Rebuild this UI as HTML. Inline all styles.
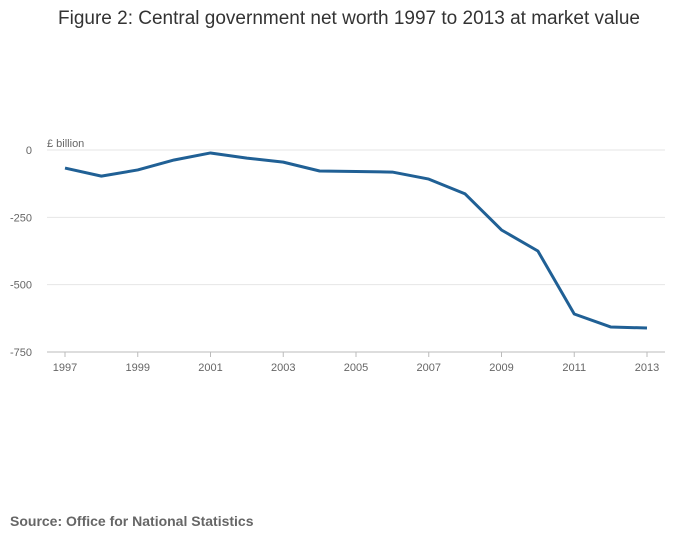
<!DOCTYPE html>
<html><head><meta charset="utf-8"><style>
body{margin:0;background:#fff;font-family:"Liberation Sans",sans-serif;}
svg text{font-family:"Liberation Sans",sans-serif;}
</style></head><body>
<svg width="700" height="549">
<text x="349" y="24" text-anchor="middle" font-size="19" fill="#333">Figure 2: Central government net worth 1997 to 2013 at market value</text>
<text x="47" y="147" font-size="11" fill="#666">£ billion</text>
<g id="grid"></g><g id="xaxis"></g>
<path id="line" fill="none" stroke="#206095" stroke-width="3" stroke-linejoin="round"/>
<text x="10" y="526" font-size="14" font-weight="bold" fill="#666">Source: Office for National Statistics</text>
</svg>
<script>
const years=[1997,1998,1999,2000,2001,2002,2003,2004,2005,2006,2007,2008,2009,2010,2011,2012,2013];
const values=[-67,-97,-74,-37,-11,-30,-45,-78,-80,-82,-108,-163,-297,-375,-609,-657,-661];
const yTicks=[0,-250,-500,-750];
const xTicks=[1997,1999,2001,2003,2005,2007,2009,2011,2013];
const ns="http://www.w3.org/2000/svg";
const X=y=>65+(y-1997)*(647-65)/16;
const Y=v=>150+(-v)*(352-150)/750;
function mk(t,a,p){const e=document.createElementNS(ns,t);for(const k in a)e.setAttribute(k,a[k]);p.appendChild(e);return e;}
const g=document.getElementById('grid'),xa=document.getElementById('xaxis');
yTicks.forEach(v=>{
 const l=mk('line',{x1:47,x2:665,y1:Y(v),y2:Y(v),stroke:v===-750?'#bbb':'#e6e6e6','stroke-width':1},g);
 
 
 const t=mk('text',{x:32,y:Y(v)+4,'text-anchor':'end','font-size':11,fill:'#666'},g);
 t.textContent=v;
 
 
});
xTicks.forEach(y=>{
 const l=mk('line',{x1:X(y),x2:X(y),y1:352,y2:357,stroke:'#bbb'},xa);
 
 
 const t=mk('text',{x:X(y),y:371,'text-anchor':'middle','font-size':11,fill:'#666'},xa);
 t.textContent=y;
 
 
});
document.getElementById('line').setAttribute('d',years.map((y,i)=>(i?'L':'M')+X(y)+','+Y(values[i])).join(''));
</script>
</body></html>
